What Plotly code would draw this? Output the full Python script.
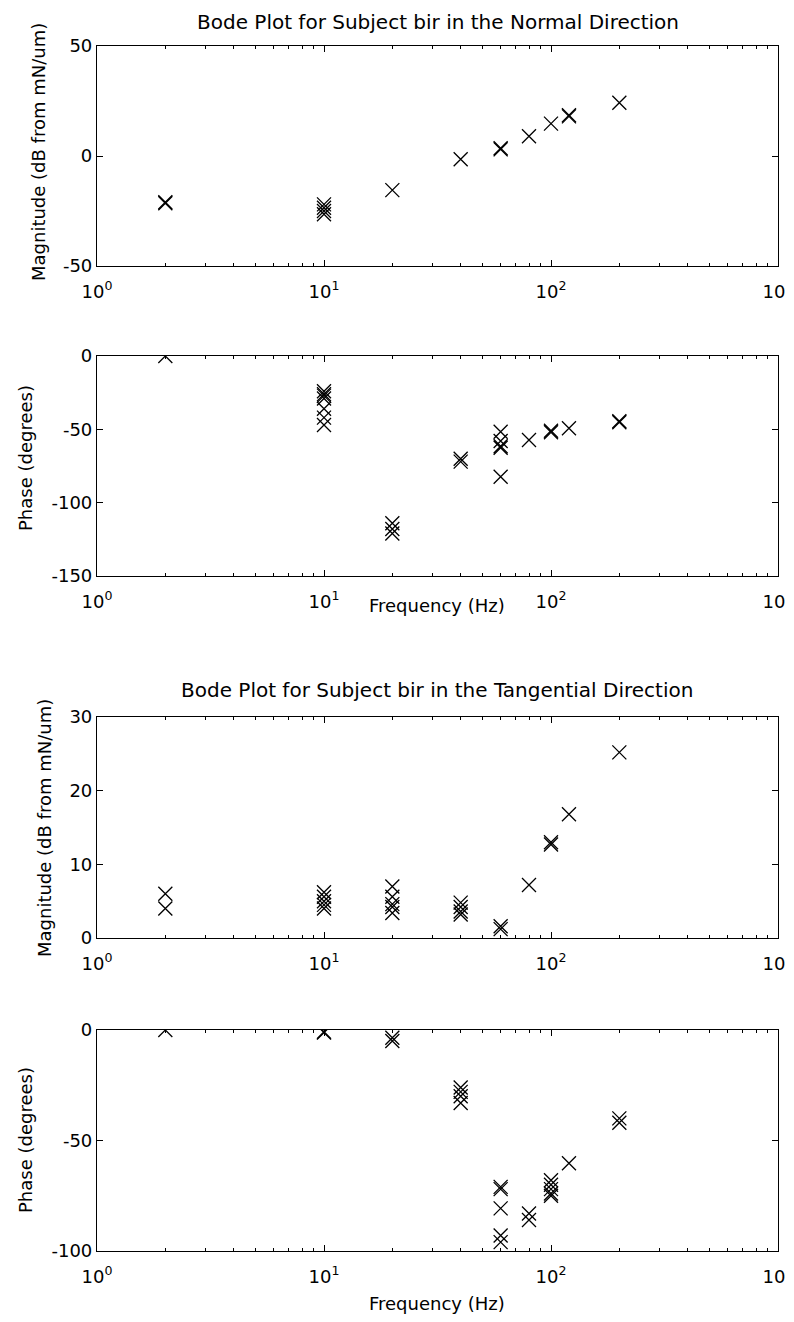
import plotly.graph_objects as go

# ---------------- data ----------------
# Normal direction, magnitude (dB from mN/um)
norm_mag_f = [2, 2, 10, 10, 10, 10, 20, 40, 60, 60, 80, 100, 120, 120, 200]
norm_mag_v = [-21, -21.5, -22, -23.5, -25, -26.5, -15.5, -1.5, 3, 3.5, 9, 14.7, 18, 18.5, 24.2]

# Normal direction, phase (degrees)
norm_ph_f = [2, 10, 10, 10, 10, 10, 10, 10, 20, 20, 20, 40, 40,
             60, 60, 60, 60, 60, 80, 100, 100, 120, 200, 200]
norm_ph_v = [0, -24, -26, -27, -29, -36, -42, -47, -114, -118, -121, -70, -72,
             -51.6, -58, -61.5, -62.5, -82.3, -57.3, -51, -52, -49.3, -44.5, -45.2]

# Tangential direction, magnitude (dB from mN/um)
tan_mag_f = [2, 2, 10, 10, 10, 10, 10, 20, 20, 20, 20, 20, 40, 40, 40, 40,
             60, 60, 80, 100, 100, 120, 200]
tan_mag_v = [6, 4, 6.2, 5.6, 5.0, 4.5, 4.0, 7.0, 5.6, 4.6, 4.2, 3.4, 4.8, 4.2, 3.6, 3.2,
             1.2, 1.6, 7.2, 12.7, 13.0, 16.8, 25.2]

# Tangential direction, phase (degrees)
tan_ph_f = [2, 10, 10, 20, 20, 40, 40, 40, 40, 60, 60, 60, 60, 60, 80, 80,
            100, 100, 100, 100, 100, 120, 200, 200]
tan_ph_v = [0, -0.8, -1.2, -3.5, -5, -26, -28, -30, -33, -71, -72, -80.7, -93, -96,
            -83, -86, -68, -70, -72, -74, -75, -60.3, -40, -42]

x_tickvals = [1, 10, 100, 1000]
x_ticktext = ["10<sup>0</sup>", "10<sup>1</sup>", "10<sup>2</sup>", "10<sup>3</sup>"]
minor_vals = [m * d for d in (1, 10, 100) for m in range(2, 10)]

y_tickvals = [[-50, 0, 50], [-150, -100, -50, 0], [0, 10, 20, 30], [-100, -50, 0]]
y_ticktext = [["-50", "0", "50"], ["-150", "-100", "-50", "0"],
              ["0", "10", "20", "30"], ["-100", "-50", "0"]]
y_ranges = [[-50, 50], [-150, 0], [0, 30], [-100, 0]]

FONT = "DejaVu Sans, Liberation Sans, Arial, sans-serif"
W = 786.0
H = 1306.0
OFF = 8  # default page body margin

def dom(top_px, bot_px):
    t = top_px - OFF
    b = bot_px - OFF
    return [1 - b / H, 1 - t / H]

fig = go.Figure()
series = [
    (norm_mag_f, norm_mag_v, "x", "y"),
    (norm_ph_f, norm_ph_v, "x2", "y2"),
    (tan_mag_f, tan_mag_v, "x3", "y3"),
    (tan_ph_f, tan_ph_v, "x4", "y4"),
]
for f, v, xa, ya in series:
    fig.add_trace(go.Scatter(
        x=f, y=v, xaxis=xa, yaxis=ya, mode="markers",
        marker=dict(symbol="x-thin-open", size=14, color="black",
                    line=dict(color="black", width=1.3)),
        showlegend=False, hoverinfo="x+y"))

ydoms = [dom(46, 266), dom(356, 576), dom(717, 938), dom(1030, 1251)]

left_px, right_px = 97 - OFF, 778 - OFF
PW = right_px - left_px
layout = dict(
    width=W, height=H,
    margin=dict(l=left_px, r=W - right_px, t=0, b=0, pad=0, autoexpand=False),
    paper_bgcolor="white", plot_bgcolor="white",
    font=dict(family=FONT, size=18, color="black"),
)
for i in range(4):
    sx = "" if i == 0 else str(i + 1)
    layout["xaxis" + sx] = dict(
        type="log", range=[0, 3], domain=[0, 1],
        anchor="y" + sx,
        tickvals=x_tickvals, ticktext=x_ticktext,
        ticks="inside", ticklen=6, tickwidth=1, tickcolor="black",
        ticklabelstandoff=9,
        showline=True, linecolor="black", linewidth=1.2, mirror="ticks",
        showgrid=False, zeroline=False,
        minor=dict(ticks="inside", ticklen=3, tickvals=minor_vals, tickcolor="black", showgrid=False),
        tickfont=dict(size=18, family=FONT),
    )
    layout["yaxis" + sx] = dict(
        range=y_ranges[i], domain=ydoms[i], anchor="x" + sx,
        tickvals=y_tickvals[i], ticktext=y_ticktext[i],
        ticks="inside", ticklen=6, tickwidth=1, tickcolor="black",
        showline=True, linecolor="black", linewidth=1.2, mirror="ticks",
        showgrid=False, zeroline=False,
        tickfont=dict(size=18, family=FONT),
    )
fig.update_layout(**layout)

ann = []
def add(text, x, y, angle=0, size=18):
    # x, y are screenshot pixel positions; convert to paper (plot-area) coords
    xf = x - OFF
    yf = y - OFF
    ann.append(dict(text=text, x=(xf - left_px) / PW, y=1 - yf / H, xref="paper", yref="paper",
                    showarrow=False, textangle=angle, xanchor="center", yanchor="middle",
                    borderpad=0,
                    font=dict(size=size, family=FONT, color="black")))

add("Bode Plot for Subject bir in the Normal Direction", 438, 22, size=20)
add("Bode Plot for Subject bir in the Tangential Direction", 437, 690, size=20)
add("Magnitude (dB from mN/um)", 38, 152, angle=-90)
add("Phase (degrees)", 25, 458, angle=-90)
add("Frequency (Hz)", 437, 606)
add("Magnitude (dB from mN/um)", 44, 828, angle=-90)
add("Phase (degrees)", 25, 1140, angle=-90)
add("Frequency (Hz)", 437, 1303)
fig.update_layout(annotations=ann)

fig.write_html("out.html")
